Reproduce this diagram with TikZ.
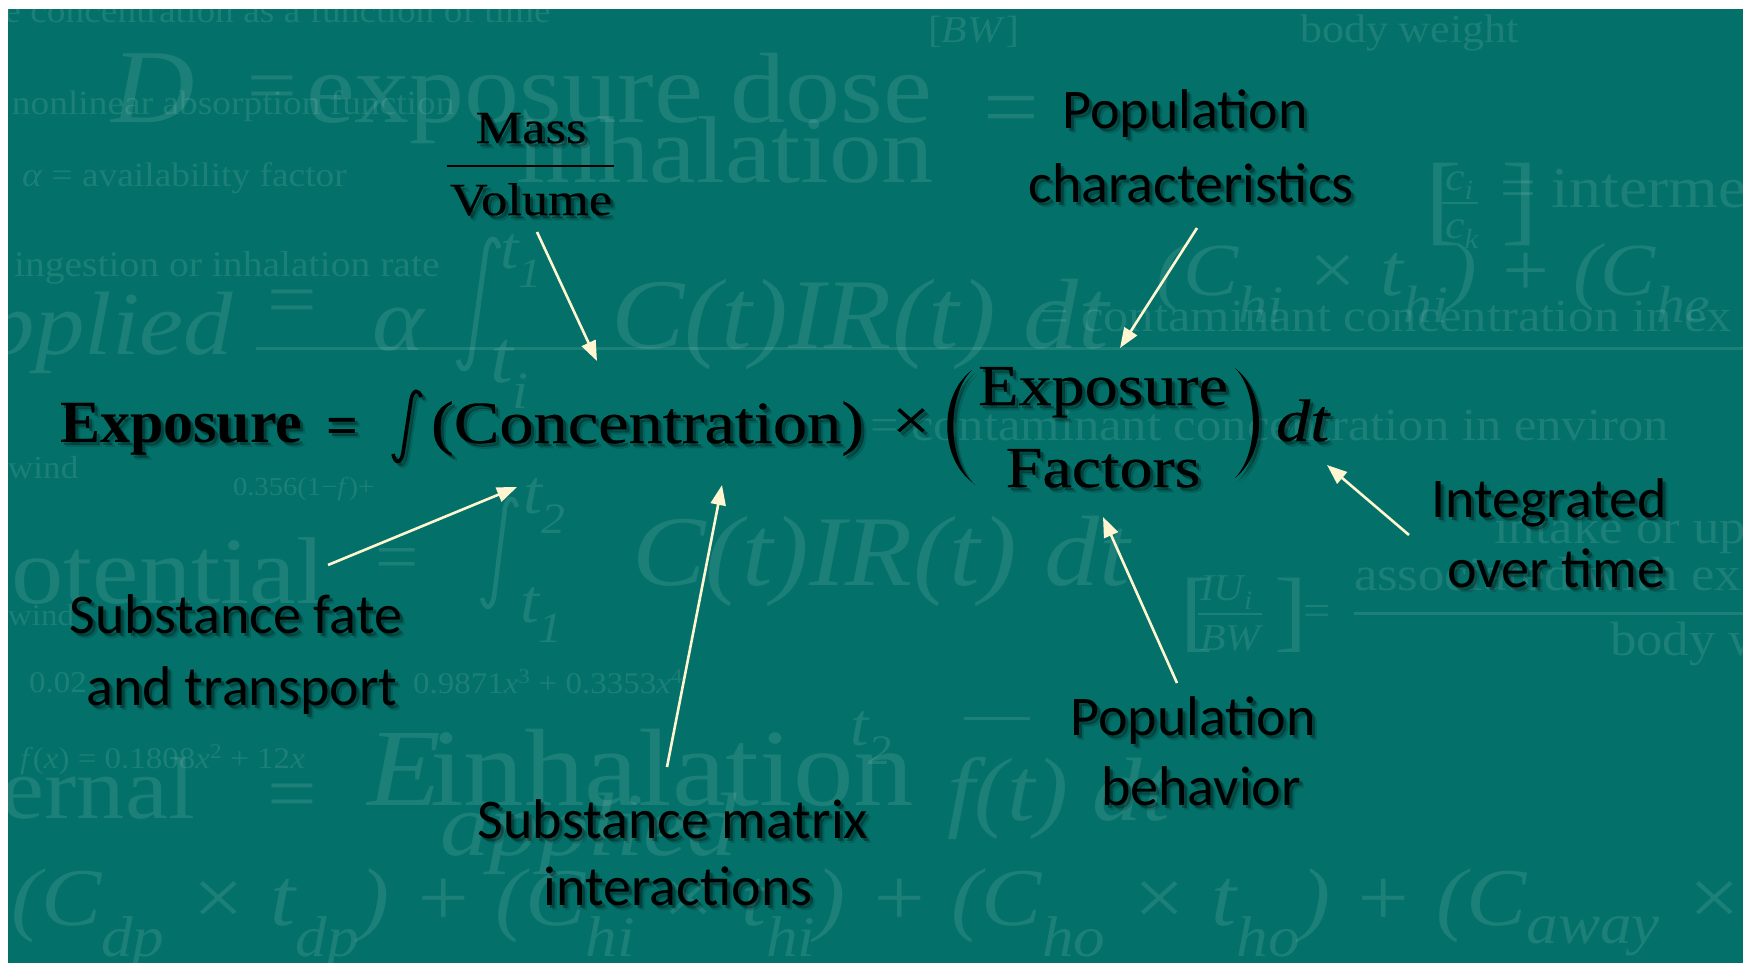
\documentclass[tikz,border=0pt]{standalone}
\usepackage{fontspec}
\setmainfont{Liberation Serif}
\newfontfamily\eqf[FakeStretch=1.14,FakeBold=0.35]{Liberation Serif}
\newfontfamily\eqb{Liberation Serif}
\newfontfamily\lblf{Carlito}
\newfontfamily\wmf[FakeStretch=1.1]{Liberation Serif}
\usetikzlibrary{arrows.meta}
\definecolor{bgteal}{RGB}{3,113,105}
\definecolor{cream}{RGB}{255,245,208}
\newcommand\fs[1]{\fontsize{#1}{#1}\selectfont}
\newcommand\tnode[5]{%
  \node[#4, text opacity=0.30] (#1s1) at (#2+3,#3+3) {#5};
  \node[#4, text opacity=0.14] (#1s2) at (#2+5,#3+5) {#5};
  \node[#4] (#1) at (#2,#3) {#5};}
\begin{document}
\begin{tikzpicture}[x=1pt,y=-1pt,
  tx/.style={text=black, inner sep=0pt, outer sep=0pt},
  wm/.style={text=white, text opacity=0.1, inner sep=0pt, outer sep=0pt, anchor=base west},
  wml/.style={draw=white, draw opacity=0.1, line width=3pt},
  arr/.style={draw=cream, line width=2.6pt, -{Triangle[length=20pt,width=15pt]}},
  lbl/.style={tx, anchor=base, font=\lblf\fs{56}},
  eqn/.style={tx, font=\eqf\fs{60}}]
\useasboundingbox (0,0) rectangle (1743,964);
\fill[bgteal] (0,0) rectangle (1743,964);
% ---------- faint background formulas ----------
\node[wm, font=\wmf\fs{34}] (w1) at (-8,22) {re concentration as a function of time};
\node[wm, font=\wmf\fs{38}] (w2) at (928,42) {[\textit{BW}]};
\node[wm, font=\wmf\fs{40}] (w3) at (1300,42) {body weight};
\node[wm, font=\wmf\itshape\fs{105}] (w4) at (111,122) {D};
\node[wm, font=\wmf\fs{80}] (w5) at (247,112) {=};
\node[wm, font=\wmf\fs{100}] (w6) at (306,122) {exposure dose};
\node[wm, font=\wmf\fs{34}] (w7) at (12,114) {nonlinear absorption function};
\node[wm, anchor=base east, font=\wmf\fs{95}] (w8) at (934,182) {inhalation};
\node[wm, font=\wmf\fs{90}] (w9) at (983,137) {=};
\node[wm, font=\wmf\fs{34}] (w10) at (22,186) {\textit{α} = availability factor};
\node[wm, font=\wmf\fs{58}] (w11) at (1500,207) {= intermedi};
\node[wm, font=\wmf\fs{100}] (w11a) at (1425,232) {[\hspace{40pt}]};
\node[wm, font=\wmf\itshape\fs{40}] (w11b) at (1445,190) {c\textsubscript{i}};
\node[wm, font=\wmf\itshape\fs{40}] (w11c) at (1445,238) {c\textsubscript{k}};
\coordinate (w11d) at (1442,203); \coordinate (w11e) at (1478,203);
\draw[wml, line width=2pt] (w11d) -- (w11e);
\node[wm, font=\wmf\fs{36}] (w12) at (14,276) {ingestion or inhalation rate};
\node[wm, font=\wmf\fs{80}] (w13) at (267,326) {=};
\node[wm, font=\wmf\itshape\fs{90}] (w14) at (372,350) {α};
\draw[wml, line width=5pt] (458,360) .. controls (461,372) and (468,372) .. (471,358) -- (486,250) .. controls (489,236) and (496,236) .. (499,248);
\node[wm, font=\wmf\itshape\fs{60}] (w15a) at (500,268) {t\textsubscript{1}};
\node[wm, font=\wmf\itshape\fs{75}] (w15b) at (490,382) {t\textsubscript{i}};
\node[wm, font=\wmf\itshape\fs{100}] (w16) at (611,348) {C(t)IR(t) dt};
\node[wm, font=\wmf\itshape\fs{75}] (w17) at (1156,295) {(C\textsubscript{hi} × t\textsubscript{hi}) + (C\textsubscript{he}};
\node[wm, anchor=base east, font=\wmf\itshape\fs{90}] (w18) at (233,354) {applied};
\coordinate (w19a) at (256,348); \coordinate (w19b) at (1743,348);
\draw[wml] (w19a) -- (w19b);
\node[wm, font=\wmf\fs{46}] (w20) at (1040,331) {= contaminant concentration in ex};
\node[wm, font=\wmf\fs{46}] (w21) at (870,440) {= contaminant concentration in environ};
\node[wm, font=\wmf\fs{32}] (w22) at (8,478) {wind};
\node[wm, font=\wmf\fs{30}] (w22b) at (8,625) {wind};
\node[wm, font=\wmf\fs{26}] (w23) at (233,495) {0.356(1−\textit{f})+};
\node[wm, anchor=base east, font=\wmf\fs{95}] (w24) at (325,603) {potential};
\node[wm, font=\wmf\fs{70}] (w25) at (375,580) {=};
\draw[wml, line width=4.5pt] (482,598) .. controls (485,610) and (491,610) .. (494,597) -- (505,508) .. controls (508,496) and (514,496) .. (517,507);
\node[wm, font=\wmf\itshape\fs{62}] (w26a) at (523,513) {t\textsubscript{2}};
\node[wm, font=\wmf\itshape\fs{62}] (w26b) at (520,622) {t\textsubscript{1}};
\node[wm, font=\wmf\itshape\fs{100}] (w27) at (632,585) {C(t)IR(t) dt};
\node[wm, font=\wmf\fs{90}] (w28) at (1180,640) {[\hspace{62pt}]};
\node[wm, font=\wmf\itshape\fs{38}] (w28b) at (1200,600) {IU\textsubscript{i}};
\node[wm, font=\wmf\itshape\fs{38}] (w28c) at (1200,650) {BW};
\coordinate (w28d) at (1198,614); \coordinate (w28e) at (1262,614);
\draw[wml, line width=2pt] (w28d) -- (w28e);
\node[wm, font=\wmf\fs{44}] (w29) at (1303,625) {=};
\node[wm, font=\wmf\fs{48}] (w30) at (1494,543) {intake or up};
\node[wm, font=\wmf\fs{48}] (w31) at (1354,590) {associated with ex};
\coordinate (w31a) at (1354,613); \coordinate (w31b) at (1743,613);
\draw[wml] (w31a) -- (w31b);
\node[wm, font=\wmf\fs{48}] (w32) at (1610,655) {body w};
\node[wm, font=\wmf\fs{30}] (w33) at (29,692) {0.02};
\node[wm, font=\wmf\fs{30}] (w34) at (413,693) {0.9871\textit{x}\textsuperscript{3} + 0.3353\textit{x}\textsuperscript{4}};
\node[wm, font=\wmf\fs{30}] (w35) at (20,768) {\textit{f}(\textit{x}) = 0.1808\textit{x}\textsuperscript{2} + 12\textit{x}};
\node[wm, font=\wmf\itshape\fs{110}] (w36) at (367,805) {E};
\node[wm, font=\wmf\fs{110}] (w36b) at (430,805) {inhalation};
\node[wm, font=\wmf\itshape\fs{60}] (w37) at (850,745) {t\textsubscript{2}};
\node[wm, font=\wmf\itshape\fs{90}] (w37b) at (947,820) {f(t) dt};
\coordinate (w37c) at (964,718); \coordinate (w37d) at (1030,718);
\draw[wml] (w37c) -- (w37d);
\node[wm, anchor=base east, font=\wmf\fs{88}] (w38) at (195,818) {external};
\node[wm, font=\wmf\fs{80}] (w39) at (267,820) {=};
\node[wm, font=\wmf\itshape\fs{90}] (w40) at (440,855) {applied};
\node[wm, font=\wmf\itshape\fs{82}] (w41) at (11,925) {(C\textsubscript{dp} × t\textsubscript{dp}) + (C\textsubscript{hi} × t\textsubscript{hi}) + (C\textsubscript{ho} × t\textsubscript{ho}) + (C\textsubscript{away} × t\textsubscript{a}};
% ---------- white margins ----------
\fill[white] (0,0) rectangle (1743,9);
\fill[white] (0,0) rectangle (8,964);
\fill[white] (0,962.5) rectangle (1743,964);
% ---------- Mass / Volume ----------
\tnode{mass}{531}{143}{tx,anchor=base,font=\eqf\fs{46}}{Mass}
\tnode{vol}{531}{215}{tx,anchor=base,font=\eqf\fs{46}}{Volume}
\coordinate (fl) at (447,166); \coordinate (fr) at (614,166);
\draw[line width=2.5pt, black, opacity=0.3, shift={(3,3)}] (fl) -- (fr);
\draw[line width=2.5pt, black] (fl) -- (fr);
% ---------- main equation ----------
\tnode{expb}{60}{442}{tx,anchor=base west,font=\eqb\bfseries\fs{60}}{Exposure}
\tnode{eqs}{342}{431}{tx,anchor=center,font=\eqb\bfseries\fs{56}}{=}
\foreach \o/\s in {0.30/3,0.14/5}{
  \draw[black, opacity=\o, line width=3.6pt, shift={(\s,\s)}] (393,454) .. controls (395,464) and (401,464) .. (403,453) -- (411,400) .. controls (413,389) and (419,389) .. (421,397);
}
\draw[black, line width=3.6pt] (393,454) .. controls (395,464) and (401,464) .. (403,453) -- (411,400) .. controls (413,389) and (419,389) .. (421,397);
\tnode{conc}{431}{443}{eqn,anchor=base west}{(Concentration)}
\tnode{times}{911}{424}{tx,anchor=center,font=\eqf\fs{58}}{×}
\tnode{expo}{1103}{405}{tx,anchor=base,font=\eqf\fs{58}}{Exposure}
\tnode{fact}{1103}{487}{tx,anchor=base,font=\eqf\fs{58}}{Factors}
\tnode{dt}{1276}{441}{tx,anchor=base west,font=\eqf\itshape\fs{60}}{dt}
\foreach \o/\s in {0.30/3,0.14/5}{
  \fill[black, opacity=\o, shift={(\s,\s)}] (972,370) .. controls (939,395) and (939,457) .. (972,482) .. controls (947,457) and (947,395) .. (972,370);
  \fill[black, opacity=\o, shift={(\s,\s)}] (1235,368) .. controls (1267,393) and (1267,453) .. (1235,478) .. controls (1259,453) and (1259,393) .. (1235,368);
}
\fill[black] (972,370) .. controls (939,395) and (939,457) .. (972,482) .. controls (947,457) and (947,395) .. (972,370);
\fill[black] (1235,368) .. controls (1267,393) and (1267,453) .. (1235,478) .. controls (1259,453) and (1259,393) .. (1235,368);
% ---------- labels ----------
\tnode{popc1}{1185}{128}{lbl}{Population}
\tnode{popc2}{1191}{202}{lbl}{characteristics}
\tnode{sft1}{236}{633}{lbl}{Substance fate}
\tnode{sft2}{242}{705}{lbl}{and transport}
\tnode{smi1}{673}{838}{lbl}{Substance matrix}
\tnode{smi2}{678}{905}{lbl}{interactions}
\tnode{pb1}{1193}{735}{lbl}{Population}
\tnode{pb2}{1201}{805}{lbl}{behavior}
\tnode{iot1}{1549}{517}{lbl}{Integrated}
\tnode{iot2}{1556}{587}{lbl}{over time}
% ---------- arrows ----------
\coordinate (a1s) at (537,232);  \coordinate (a1e) at (597,361);
\coordinate (a2s) at (1197,228); \coordinate (a2e) at (1120,348);
\coordinate (a3s) at (328,565);  \coordinate (a3e) at (517,487);
\coordinate (a4s) at (667,767);  \coordinate (a4e) at (722,485);
\coordinate (a5s) at (1177,683); \coordinate (a5e) at (1103,517);
\coordinate (a6s) at (1409,535); \coordinate (a6e) at (1327,465);
\draw[arr] (a1s) -- (a1e);
\draw[arr] (a2s) -- (a2e);
\draw[arr] (a3s) -- (a3e);
\draw[arr] (a4s) -- (a4e);
\draw[arr] (a5s) -- (a5e);
\draw[arr] (a6s) -- (a6e);
\end{tikzpicture}
\end{document}
